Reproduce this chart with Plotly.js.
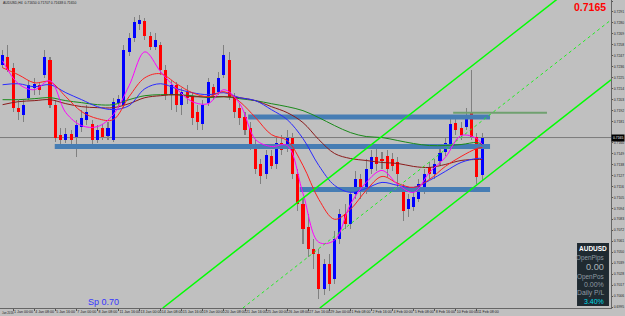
<!DOCTYPE html>
<html><head><meta charset="utf-8">
<script src="https://cdn.plot.ly/plotly-3.0.1.min.js"></script>
<style>html,body{margin:0;padding:0;background:#c0c0c0;overflow:hidden}</style>
</head><body><div id="chart" style="width:625px;height:316px"></div>
<script>
// ---- candle data (AUDUSD, price) ----
const openP = [.7238,.7246,.7235,.7195,.7188,.7205,.7215,.7218,.7228,.7243,
.7198,.7168,.7163,.7169,.7166,.7176,.7183,.7179,.7163,.7175,
.7167,.7163,.7200,.7198,.7251,.7265,.7279,.7282,.7267,.7256,
.7258,.7233,.7208,.7218,.7198,.7211,.7207,.7191,.7179,.7200,
.7216,.7211,.7228,.7243,.7206,.7195,.7186,.7175,.7156,.7138,
.7128,.7146,.7138,.7160,.7155,.7165,.7128,.7098,.7075,.7053,
.7048,.7013,.7038,.7023,.7063,.7088,.7078,.7108,.7123,.7115,
.7133,.7145,.7143,.7146,.7143,.7140,.7110,.7093,.7095,.7103,
.7113,.7135,.7128,.7141,.7151,.7158,.7180,.7175,.7176,.7190,
.7166,.7127];
const highP = [.7253,.7258,.7240,.7203,.7203,.7223,.7225,.7221,.7253,.7246,
.7203,.7175,.7175,.7173,.7183,.7193,.7198,.7183,.7178,.7179,
.7181,.7205,.7208,.7258,.7270,.7286,.7288,.7285,.7271,.7270,
.7261,.7238,.7223,.7221,.7215,.7218,.7211,.7198,.7203,.7225,
.7219,.7231,.7258,.7251,.7210,.7200,.7191,.7181,.7163,.7143,
.7153,.7153,.7165,.7168,.7173,.7170,.7133,.7103,.7088,.7063,
.7053,.7043,.7048,.7071,.7093,.7098,.7113,.7131,.7128,.7143,
.7153,.7155,.7151,.7153,.7150,.7145,.7118,.7108,.7113,.7123,
.7133,.7140,.7143,.7155,.7165,.7185,.7188,.7181,.7195,.7233,
.7170,.7170];
const lowP = [.7235,.7231,.7191,.7183,.7181,.7203,.7208,.7208,.7225,.7195,
.7161,.7158,.7160,.7156,.7145,.7171,.7178,.7158,.7160,.7163,
.7163,.7161,.7195,.7195,.7247,.7261,.7273,.7263,.7253,.7253,
.7228,.7203,.7193,.7191,.7188,.7199,.7178,.7173,.7173,.7197,
.7203,.7208,.7225,.7203,.7185,.7178,.7168,.7153,.7128,.7118,
.7123,.7133,.7133,.7148,.7151,.7123,.7091,.7058,.7045,.7033,
.7003,.7007,.7011,.7018,.7058,.7073,.7073,.7103,.7103,.7108,
.7128,.7131,.7133,.7125,.7131,.7113,.7081,.7085,.7091,.7100,
.7108,.7123,.7123,.7137,.7147,.7155,.7168,.7163,.7173,.7163,
.7118,.7121];
const closeP = [.7248,.7233,.7195,.7191,.7198,.7218,.7219,.7213,.7246,.7198,
.7165,.7163,.7169,.7163,.7178,.7185,.7191,.7163,.7173,.7166,
.7175,.7201,.7204,.7253,.7265,.7281,.7283,.7267,.7256,.7263,
.7233,.7208,.7218,.7198,.7211,.7205,.7185,.7181,.7198,.7221,
.7208,.7225,.7248,.7206,.7191,.7185,.7173,.7156,.7133,.7126,
.7148,.7136,.7160,.7153,.7165,.7128,.7098,.7073,.7053,.7048,
.7013,.7038,.7018,.7063,.7088,.7078,.7108,.7123,.7113,.7133,
.7145,.7138,.7141,.7133,.7136,.7128,.7091,.7103,.7105,.7118,
.7128,.7128,.7138,.7150,.7160,.7179,.7173,.7168,.7188,.7166,
.7125,.7165];

// ---- moving averages, sampled at these bars ----
const maBars = [0,3,6,9,12,15,18,21,24,27,30,33,36,39,42,45,48,51,54,57,60,63,66,69,72,75,78,81,84,87,90,91];
const maMagenta = [.7242,.7219,.7213,.7222,.7190,.7177,.7176,.7188,.7217,.7251,.7231,.7214,.7201,.7199,.7213,.7199,.7163,.7156,.7157,.7109,.7060,.7062,.7098,.7120,.7132,.7118,.7110,.7130,.7145,.7167,.7164,.7158];
const maRed = [.7235,.7228,.7220,.7221,.7206,.7191,.7184,.7183,.7206,.7225,.7229,.7219,.7210,.7206,.7211,.7201,.7185,.7168,.7162,.7137,.7103,.7083,.7093,.7112,.7126,.7119,.7115,.7123,.7136,.7146,.7154,.7155];
const maBlue = [.7218,.7219,.7216,.7218,.7210,.7203,.7196,.7193,.7197,.7214,.7219,.7214,.7210,.7208,.7210,.7205,.7202,.7193,.7183,.7164,.7137,.7117,.7110,.7114,.7120,.7117,.7115,.7122,.7131,.7140,.7144,.7144];
const maBrown = [.7198,.7201,.7202,.7203,.7199,.7196,.7195,.7195,.7199,.7205,.7207,.7208,.7206,.7206,.7206,.7205,.7202,.7196,.7190,.7180,.7163,.7149,.7144,.7142,.7140,.7139,.7136,.7135,.7138,.7142,.7143,.7143];
const maGreen = [.7203,.7203,.7204,.7205,.7202,.7200,.7198,.7198,.7203,.7207,.7208,.7208,.7207,.7205,.7206,.7204,.7202,.7199,.7196,.7192,.7185,.7177,.7170,.7166,.7165,.7162,.7159,.7157,.7157,.7158,.7160,.7158];

// ---- drawn objects (bar index, price) ----
const chanA_x = [30.4, 106.0], chanA_y = [0.6994, 0.7307];
const chanB_x = [45.6, 115.45], chanB_y = [0.6994, 0.7283];
const chanC_x = [60.2, 115.45], chanC_y = [0.6994, 0.7223];
const zoneUp_x = [46.6, 92.5], zoneUp_y = [0.71855, 0.71855];
const zoneMid_x = [9.9, 92.5], zoneMid_y = [0.7156, 0.7156];
const zoneLow_x = [56.4, 92.5], zoneLow_y = [0.7113, 0.7113];
const greenLine_x = [85.5, 103.3], greenLine_y = [0.7190, 0.7190];
const bidPrice = 0.7165;

// ---- axis ticks ----
const xTickBars = [2,6,10,14,18,22,26,30,34,38,42,46,50,54,58,62,66,70,74,78,82,86,90];
const xTickText = ["1 Jan 00:00","4 Jan 08:00","5 Jan 16:00","7 Jan 00:00","8 Jan 08:00","11 Jan 16:00","13 Jan 00:00","14 Jan 08:00","15 Jan 16:00","19 Jan 00:00","20 Jan 08:00","21 Jan 16:00","25 Jan 00:00","26 Jan 08:00","27 Jan 16:00","29 Jan 00:00","1 Feb 08:00","2 Feb 16:00","4 Feb 00:00","5 Feb 08:00","8 Feb 16:00","10 Feb 00:00","11 Feb 08:00"];
const yTickVals = [.7302,.7291,.7280,.7269,.7258,.7247,.7236,.7225,.7214,.7203,.7192,.7181,.7160,.7149,.7138,.7127,.7116,.7105,.7094,.7083,.7072,.7061,.7050,.7039,.7028,.7017,.7006,.6995];

const upColor = '#0000ff', downColor = '#ff0000', wickColor = '#808080';
const idx = openP.map((_, i) => i);
const bodyBase = openP.map((o, i) => Math.min(o, closeP[i]));
const bodyLen = openP.map((o, i) => Math.max(Math.abs(closeP[i] - o), 0.00008));
const bodyCol = openP.map((o, i) => closeP[i] >= o ? upColor : downColor);
const wickLen = highP.map((h, i) => h - lowP[i]);

const zoneColor = 'rgb(70,125,180)';
const traces = [
  {type:'scatter', mode:'lines', x:zoneMid_x, y:zoneMid_y, line:{color:zoneColor, width:5}, hoverinfo:'skip'},
  {type:'scatter', mode:'lines', x:zoneUp_x, y:zoneUp_y, line:{color:zoneColor, width:5}, hoverinfo:'skip'},
  {type:'scatter', mode:'lines', x:zoneLow_x, y:zoneLow_y, line:{color:zoneColor, width:5}, hoverinfo:'skip'},
  {type:'bar', x:idx, base:lowP, y:wickLen, width:0.2, marker:{color:wickColor, line:{width:0}}, hoverinfo:'skip'},
  {type:'bar', x:idx, base:bodyBase, y:bodyLen, width:0.58, marker:{color:bodyCol, line:{width:0}}, hoverinfo:'skip'},
  {type:'scatter', mode:'lines', x:maBars, y:maGreen, line:{color:'#1a8a1a', width:1, shape:'spline'}, hoverinfo:'skip'},
  {type:'scatter', mode:'lines', x:maBars, y:maBrown, line:{color:'#8b1a1a', width:1, shape:'spline'}, hoverinfo:'skip'},
  {type:'scatter', mode:'lines', x:maBars, y:maBlue, line:{color:'#2a2aff', width:1, shape:'spline'}, hoverinfo:'skip'},
  {type:'scatter', mode:'lines', x:maBars, y:maRed, line:{color:'#ff2020', width:1, shape:'spline'}, hoverinfo:'skip'},
  {type:'scatter', mode:'lines', x:maBars, y:maMagenta, line:{color:'#ff00ff', width:1, shape:'spline'}, hoverinfo:'skip'},
  {type:'scatter', mode:'lines', x:chanA_x, y:chanA_y, line:{color:'#00ff00', width:1.5}, hoverinfo:'skip'},
  {type:'scatter', mode:'lines', x:chanB_x, y:chanB_y, line:{color:'#22ee22', width:1, dash:'dot'}, hoverinfo:'skip'},
  {type:'scatter', mode:'lines', x:chanC_x, y:chanC_y, line:{color:'#00ff00', width:1.5}, hoverinfo:'skip'},
  {type:'scatter', mode:'lines', x:greenLine_x, y:greenLine_y, line:{color:'#6fa06f', width:2}, hoverinfo:'skip'}
];

const FF = 'Liberation Sans, Arial, sans-serif';
const panelGray = '#8f9ba3';
const layout = {
  width:625, height:316,
  margin:{l:0, r:14, t:0, b:8, pad:0},
  paper_bgcolor:'#c0c0c0', plot_bgcolor:'#c0c0c0',
  showlegend:false, barmode:'overlay', bargap:0,
  xaxis:{range:[-0.49,115.45], showgrid:false, zeroline:false, automargin:false, fixedrange:true,
    tickvals:xTickBars, ticktext:xTickText, ticks:'outside', ticklen:2, tickcolor:'#555', tickangle:0,
    ticklabelposition:'outside right', tickfont:{family:FF, size:3.6, color:'#222'},
    showline:true, linecolor:'#666', linewidth:1},
  yaxis:{range:[0.6994,0.7303], side:'right', showgrid:false, zeroline:false, automargin:false, fixedrange:true,
    tickvals:yTickVals, tickformat:'.4f', ticks:'outside', ticklen:1, tickcolor:'#555', ticklabelstandoff:0,
    tickfont:{family:FF, size:3.4, color:'#222'}, showline:true, linecolor:'#666', linewidth:1},
  shapes:[
    {type:'line', xref:'paper', x0:0, x1:1, yref:'y', y0:bidPrice, y1:bidPrice, line:{color:'#7a7a7a', width:1}, layer:'below'},
    {type:'rect', xref:'paper', yref:'paper', x0:0.9444, x1:0.9967, y0:0.0065, y1:0.211, fillcolor:'#1f2a31', line:{width:0}}
  ],
  annotations:[
    {xref:'paper', yref:'paper', x:0.0016, y:0.99, xanchor:'left', yanchor:'middle', showarrow:false,
      text:'AUDUSD,H4  0.71650 0.71707 0.71638 0.71650', font:{family:FF, size:3.4, color:'#222'}},
    {xref:'paper', yref:'paper', x:0.9951, y:0.977, xanchor:'right', yanchor:'middle', showarrow:false,
      text:'<b>0.7165</b>', font:{family:FF, size:10.5, color:'#ff0000'}},
    {xref:'paper', yref:'paper', x:0.1408, y:0.0195, xanchor:'left', yanchor:'middle', showarrow:false,
      text:'Sp 0.70', font:{family:FF, size:9, color:'#3535ff'}},
    {xref:'paper', yref:'y', x:1, y:bidPrice, xanchor:'left', yanchor:'middle', showarrow:false,
      text:'0.7165', font:{family:FF, size:3.4, color:'#ffffff'}, bgcolor:'#000000', borderpad:1},
    {xref:'paper', yref:'paper', x:0, y:-0.004, xanchor:'left', yanchor:'top', showarrow:false,
      text:'Jan 2016', font:{family:FF, size:2.8, color:'#222'}},
    {xref:'paper', yref:'paper', x:0.9705, y:0.1916, xanchor:'center', yanchor:'middle', showarrow:false,
      text:'<b>AUDUSD</b>', font:{family:FF, size:6.5, color:'#ffffff'}},
    {xref:'paper', yref:'paper', x:0.9918, y:0.1623, xanchor:'right', yanchor:'middle', showarrow:false,
      text:'OpenPips', font:{family:FF, size:6.3, color:panelGray}},
    {xref:'paper', yref:'paper', x:0.9918, y:0.1331, xanchor:'right', yanchor:'middle', showarrow:false,
      text:'0.00', font:{family:FF, size:9.2, color:'#aab4ba'}},
    {xref:'paper', yref:'paper', x:0.9918, y:0.1006, xanchor:'right', yanchor:'middle', showarrow:false,
      text:'OpenPos', font:{family:FF, size:6.4, color:panelGray}},
    {xref:'paper', yref:'paper', x:0.9918, y:0.0747, xanchor:'right', yanchor:'middle', showarrow:false,
      text:'0.00%', font:{family:FF, size:7, color:panelGray}},
    {xref:'paper', yref:'paper', x:0.9918, y:0.0487, xanchor:'right', yanchor:'middle', showarrow:false,
      text:'Daily P/L', font:{family:FF, size:6.8, color:panelGray}},
    {xref:'paper', yref:'paper', x:0.9918, y:0.0227, xanchor:'right', yanchor:'middle', showarrow:false,
      text:'3.40%', font:{family:FF, size:7, color:'#00dde8'}}
  ]
};
Plotly.newPlot('chart', traces, layout, {staticPlot:true, displayModeBar:false});
</script>
</body></html>
